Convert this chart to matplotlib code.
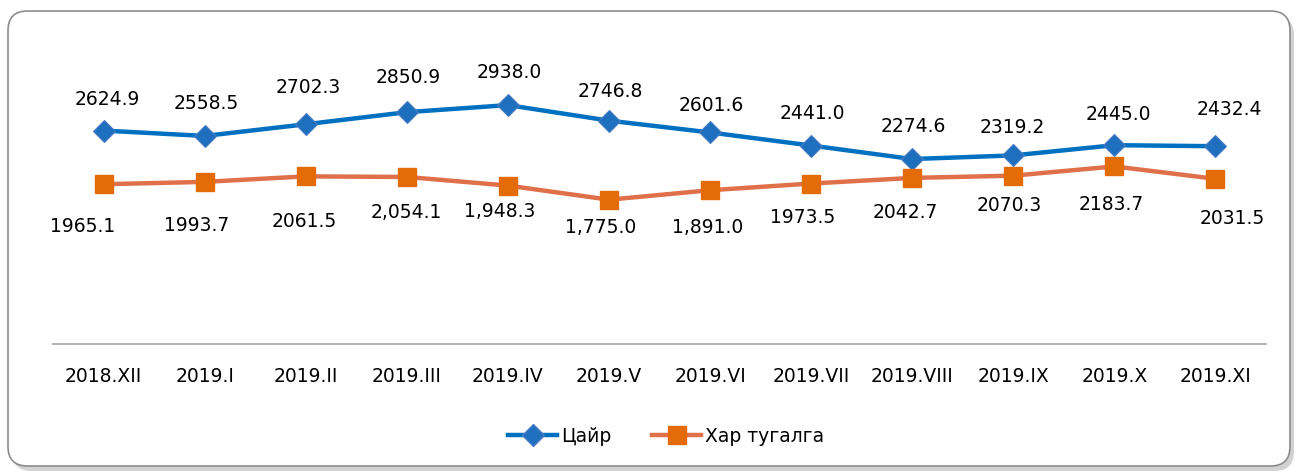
import matplotlib.pyplot as plt
from matplotlib.patches import FancyBboxPatch
from matplotlib.lines import Line2D

# Өгөгдөл
months = ['2018.XII', '2019.I', '2019.II', '2019.III', '2019.IV', '2019.V',
          '2019.VI', '2019.VII', '2019.VIII', '2019.IX', '2019.X', '2019.XI']
zinc = [2624.9, 2558.5, 2702.3, 2850.9, 2938.0, 2746.8,
        2601.6, 2441.0, 2274.6, 2319.2, 2445.0, 2432.4]
lead = [1965.1, 1993.7, 2061.5, 2054.1, 1948.3, 1775.0,
        1891.0, 1973.5, 2042.7, 2070.3, 2183.7, 2031.5]
zinc_labels = ['2624.9', '2558.5', '2702.3', '2850.9', '2938.0', '2746.8',
               '2601.6', '2441.0', '2274.6', '2319.2', '2445.0', '2432.4']
lead_labels = ['1965.1', '1993.7', '2061.5', '2,054.1', '1,948.3', '1,775.0',
               '1,891.0', '1973.5', '2042.7', '2070.3', '2183.7', '2031.5']

# шошгоны байрлал (цэг)
zinc_dy = [23, 24, 27, 26, 24, 22, 20, 24, 24, 21, 23, 27]
zinc_dx = [3, 1, 2, 1, 1, 1, 1, 1, 1, -1, 3, 10]
lead_dy = [30, 31, 32, 25, 18, 19, 26, 24, 24, 21, 27, 28]
lead_dx = [-15, -6, -1, 0, -6, -6, -2, -6, -5, -3, -2, 12]

BLUE = '#0070C0'
ORANGE_LINE = '#E0704A'
ORANGE_MK = '#E36C09'
FS = 13.5

fig = plt.figure(figsize=(12.98, 4.77), dpi=100)
W, H = 1298, 477

# хүрээ ба сүүдэр
shadow = FancyBboxPatch((12 / W, 5 / H), 1282 / W, 455 / H,
                        boxstyle='round,pad=0,rounding_size=0.015',
                        transform=fig.transFigure, facecolor='#BFBFBF',
                        edgecolor='none', alpha=0.7, zorder=-2,
                        mutation_aspect=W / H)
fig.patches.append(shadow)
frame = FancyBboxPatch((8 / W, 10 / H), 1282 / W, 455 / H,
                       boxstyle='round,pad=0,rounding_size=0.015',
                       transform=fig.transFigure, facecolor='white',
                       edgecolor='#8C8C8C', linewidth=1.2, zorder=-1,
                       mutation_aspect=W / H)
fig.patches.append(frame)

ax = fig.add_axes([53 / W, 1 - 345 / H, (1266 - 53) / W, (345 - 60.4) / H])
ax.set_facecolor('none')
x = list(range(len(months)))

ax.plot(x, zinc, color=BLUE, linewidth=3.2, marker='D', markersize=11.5,
        markerfacecolor='#1F6FBF', markeredgecolor='#4A7CC4',
        markeredgewidth=0.8, zorder=3, clip_on=False)
ax.plot(x, lead, color=ORANGE_LINE, linewidth=3.2, marker='s', markersize=13,
        markerfacecolor=ORANGE_MK, markeredgecolor=ORANGE_MK, zorder=3,
        clip_on=False)

for i in x:
    ax.annotate(zinc_labels[i], (i, zinc[i]), xytext=(zinc_dx[i], zinc_dy[i]),
                textcoords='offset points', ha='center', va='center',
                fontsize=FS, color='black')
    ax.annotate(lead_labels[i], (i, lead[i]), xytext=(lead_dx[i], -lead_dy[i]),
                textcoords='offset points', ha='center', va='center',
                fontsize=FS, color='black')

ax.set_xlim(-0.5, len(months) - 0.5)
ax.set_ylim(0, 3500)
ax.set_xticks(x)
ax.set_xticklabels(months, fontsize=FS)
ax.tick_params(axis='x', length=0, pad=16)
ax.set_yticks([])
for s in ['top', 'right', 'left']:
    ax.spines[s].set_visible(False)
ax.spines['bottom'].set_color('#A6A6A6')
ax.spines['bottom'].set_linewidth(1.2)

handles = [
    Line2D([], [], color=BLUE, linewidth=3.2, marker='D', markersize=11.5,
           markerfacecolor='#1F6FBF', markeredgecolor='#4A7CC4'),
    Line2D([], [], color=ORANGE_LINE, linewidth=3.2, marker='s', markersize=13,
           markerfacecolor=ORANGE_MK, markeredgecolor=ORANGE_MK),
]
fig.legend(handles, ['Цайр', 'Хар тугалга'], loc='center',
           bbox_to_anchor=(666 / W, 1 - 437 / H), ncol=2, frameon=False,
           fontsize=FS, handlelength=2.6, handletextpad=0.2,
           columnspacing=2.2)

fig.savefig('out.png', dpi=100)
